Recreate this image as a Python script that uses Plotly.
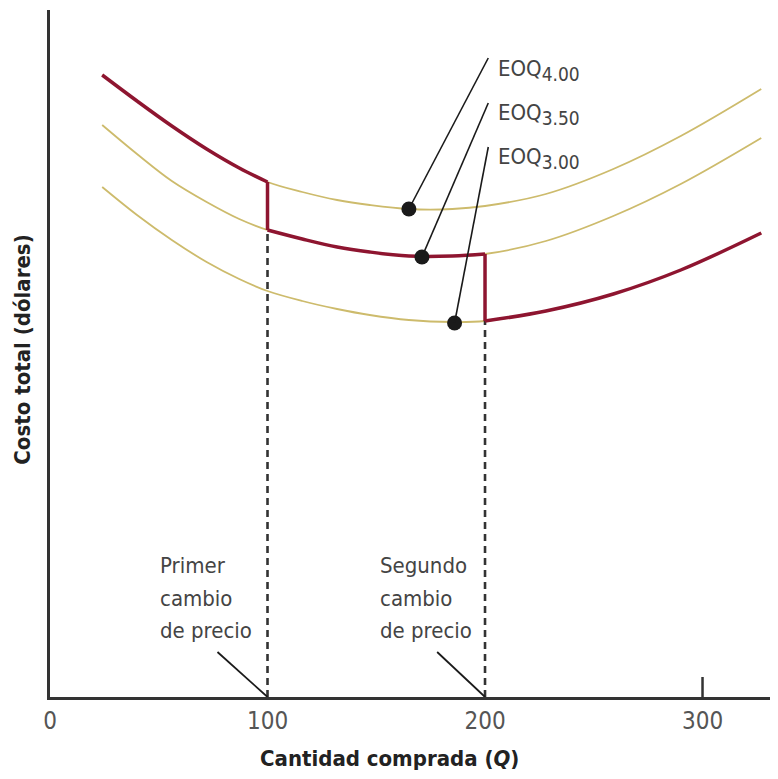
import plotly.graph_objects as go

# ---------------- data ----------------
q_grid = [24, 40, 56, 72, 87, 100, 116, 132, 147, 165, 185, 200, 228, 259, 290, 327]
cost_400 = [622, 596, 571, 548, 529, 515, 505, 497, 492, 488, 488, 491, 503, 528, 561, 608]
cost_350 = [572, 543, 516, 495, 478, 467, 458, 450, 445, 441, 441, 443, 456, 481, 513, 559]
cost_300 = [510, 482, 457, 435, 418, 406, 396, 388, 382, 377, 375, 376, 386, 403, 427, 464]

price_breaks = [100, 200]
eoq_q = [165, 171, 186]
eoq_cost = [488, 440, 374]
eoq_labels = ["4.00", "3.50", "3.00"]

x_ticks = [0, 100, 200, 300]
x_tick_text = ["0", "100", "200", "300"]

FONT = "DejaVu Sans Condensed, Liberation Sans Narrow, Roboto, sans-serif"
RED = "#8e1530"
TAN = "#cdbb6c"

fig = go.Figure()

# full total-cost curves (thin tan)
for cvals in (cost_400, cost_350, cost_300):
    fig.add_trace(go.Scatter(x=q_grid, y=cvals, mode="lines",
                             line=dict(color=TAN, width=1.8, shape="spline"),
                             hoverinfo="skip", showlegend=False))

# dashed price-break lines
b1, b2 = price_breaks
mid_at_b1 = cost_350[q_grid.index(b1)]
top_at_b1 = cost_400[q_grid.index(b1)]
mid_at_b2 = cost_350[q_grid.index(b2)]
bot_at_b2 = cost_300[q_grid.index(b2)]
fig.add_trace(go.Scatter(x=[b1, b1, None, b2, b2], y=[0, mid_at_b1, None, 0, bot_at_b2],
                         mode="lines", line=dict(color="#333333", width=2.6, dash="7px,5px"),
                         hoverinfo="skip", showlegend=False))

# red relevant total-cost curve
seg1 = [(q, c) for q, c in zip(q_grid, cost_400) if q <= b1]
seg2 = [(q, c) for q, c in zip(q_grid, cost_350) if b1 <= q <= b2]
seg3 = [(q, c) for q, c in zip(q_grid, cost_300) if q >= b2]
for seg in (seg1, seg2, seg3):
    fig.add_trace(go.Scatter(x=[p[0] for p in seg], y=[p[1] for p in seg], mode="lines",
                             line=dict(color=RED, width=3.5, shape="spline"),
                             hoverinfo="skip", showlegend=False))
fig.add_trace(go.Scatter(x=[b1, b1, None, b2, b2], y=[top_at_b1, mid_at_b1, None, mid_at_b2, bot_at_b2],
                         mode="lines", line=dict(color=RED, width=3.5),
                         hoverinfo="skip", showlegend=False))

# leader lines from EOQ dots to labels
label_q = 201.5
label_cost = [639, 594, 550]
for q, c, lc in zip(eoq_q, eoq_cost, label_cost):
    fig.add_shape(type="line", x0=q, y0=c, x1=label_q, y1=lc,
                  line=dict(color="#1a1a1a", width=1.6))

# EOQ dots
fig.add_trace(go.Scatter(x=eoq_q, y=eoq_cost, mode="markers",
                         marker=dict(color="#1a1a1a", size=15),
                         hoverinfo="skip", showlegend=False))

# EOQ labels
label_text_cost = [627, 583, 539]
for lab, lc in zip(eoq_labels, label_text_cost):
    fig.add_annotation(x=205, y=lc, xref="x", yref="y",
                       text="EOQ<sub><span style='font-size:19px'>" + lab + "</span></sub>",
                       showarrow=False, xanchor="left", yanchor="middle",
                       font=dict(family=FONT, size=22, color="#444"))

# price break notes
notes = [("Primer", "cambio", "de precio"), ("Segundo", "cambio", "de precio")]
note_q = [49.5, 151]
note_line_cost = [132, 99, 67]
for nq, lines in zip(note_q, notes):
    for txt, lc in zip(lines, note_line_cost):
        fig.add_annotation(x=nq, y=lc, xref="x", yref="y", text=txt, showarrow=False,
                           xanchor="left", yanchor="middle",
                           font=dict(family=FONT, size=22, color="#444"))
note_leader_start = [(77, 45), (178, 45)]
for (sq, sc), bq in zip(note_leader_start, price_breaks):
    fig.add_shape(type="line", x0=sq, y0=sc, x1=bq, y1=0,
                  line=dict(color="#1a1a1a", width=1.8))

# tick mark at 300 (inside)
fig.add_shape(type="line", x0=300, x1=300, y0=0, y1=20, line=dict(color="#333", width=2.5))

# axis titles
fig.add_annotation(x=0.467, y=-0.089, xref="paper", yref="paper",
                   text="<b>Cantidad comprada (<i>Q</i>)</b>", showarrow=False,
                   xanchor="center", yanchor="middle",
                   font=dict(family=FONT, size=22, color="#222"))
fig.add_annotation(x=-0.039, y=0.505, xref="paper", yref="paper",
                   text="<b>Costo total (dólares)</b>", showarrow=False, textangle=-90,
                   xanchor="center", yanchor="middle",
                   font=dict(family=FONT, size=22, color="#222"))

fig.update_layout(
    width=770, height=771,
    margin=dict(l=42, r=0, t=2, b=82),
    paper_bgcolor="white", plot_bgcolor="white",
    showlegend=False,
    xaxis=dict(range=[0, 334.7], showline=True, linecolor="#333", linewidth=2.5,
               showgrid=False, zeroline=False, tickvals=x_ticks, ticktext=x_tick_text,
               ticks="", tickfont=dict(family=FONT, size=24, color="#555")),
    yaxis=dict(range=[0, 687], showline=True, linecolor="#333", linewidth=2.5,
               showgrid=False, zeroline=False, showticklabels=False, ticks=""),
)

fig.write_html("out.html")
